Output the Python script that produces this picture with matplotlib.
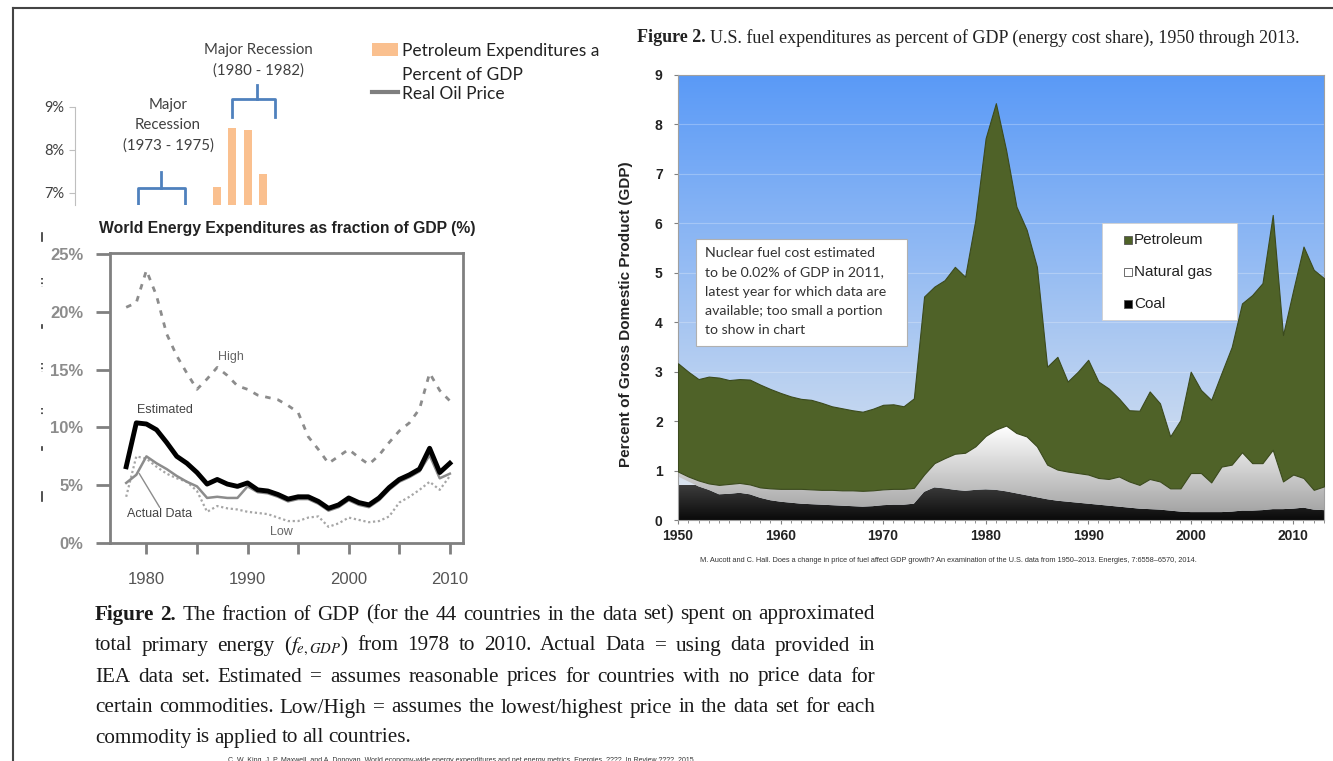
import numpy as np
import matplotlib
matplotlib.use("Agg")
import matplotlib.pyplot as plt
from matplotlib.colors import LinearSegmentedColormap
from matplotlib.patches import Rectangle, PathPatch
from matplotlib.lines import Line2D
from matplotlib.transforms import Bbox, TransformedBbox

# ---- data: partly hidden chart behind (petroleum expenditures, %) ----
petro_bar_years = [1978, 1979, 1980, 1981]
petro_bar_pct = [7.15, 8.5, 8.47, 7.45]

# ---- data: world energy expenditures as fraction of GDP (%) ----
world_years = list(range(1978, 2011))
world_high = [20.4, 20.8, 23.6, 21.4, 18.1, 16.2, 14.7, 13.3, 14.2, 15.2, 14.5,
              13.6, 13.3, 12.8, 12.6, 12.4, 11.9, 11.3, 9.2, 8.1, 6.9, 7.5,
              8.1, 7.4, 6.8, 7.6, 8.7, 9.7, 10.4, 11.6, 14.7, 13.2, 12.3]
world_estimated = [6.6, 10.4, 10.3, 9.8, 8.7, 7.5, 6.9, 6.1, 5.1, 5.5, 5.1,
                   4.9, 5.2, 4.6, 4.5, 4.2, 3.8, 4.0, 4.0, 3.6, 3.0, 3.3,
                   3.9, 3.5, 3.3, 3.9, 4.8, 5.5, 5.9, 6.4, 8.2, 6.1, 6.9]
world_actual = [5.2, 5.9, 7.5, 6.9, 6.4, 5.8, 5.3, 4.9, 3.9, 4.0, 3.9,
                3.9, 4.9, 4.4, 4.3, 4.0, 3.6, 3.8, 3.8, 3.4, 2.8, 3.1,
                3.7, 3.3, 3.1, 3.7, 4.6, 5.3, 5.7, 6.2, 7.6, 5.6, 6.0]
world_low = [4.0, 7.5, 7.3, 6.6, 6.0, 5.6, 5.3, 4.5, 2.7, 3.2, 3.0,
             2.9, 2.7, 2.6, 2.5, 2.2, 1.9, 1.9, 2.2, 2.3, 1.4, 1.7,
             2.2, 2.0, 1.8, 1.9, 2.3, 3.5, 4.0, 4.6, 5.3, 4.6, 5.8]

# ---- data: U.S. fuel expenditures, % of GDP (stacked tops) ----
us_years = list(range(1950, 2014))
coal_top = [0.88, 0.78, 0.68, 0.61, 0.52, 0.53, 0.55, 0.52, 0.45, 0.40,
            0.37, 0.35, 0.33, 0.32, 0.31, 0.30, 0.29, 0.28, 0.27, 0.28,
            0.30, 0.31, 0.31, 0.33, 0.57, 0.66, 0.64, 0.61, 0.59, 0.61,
            0.62, 0.61, 0.58, 0.54, 0.50, 0.46, 0.42, 0.39, 0.37, 0.35,
            0.33, 0.31, 0.29, 0.27, 0.25, 0.23, 0.22, 0.21, 0.19, 0.17,
            0.16, 0.16, 0.16, 0.16, 0.17, 0.19, 0.19, 0.20, 0.22, 0.22,
            0.23, 0.25, 0.21, 0.20]
gas_top = [0.98, 0.88, 0.80, 0.74, 0.71, 0.73, 0.75, 0.72, 0.66, 0.64,
           0.63, 0.63, 0.63, 0.62, 0.61, 0.61, 0.60, 0.60, 0.59, 0.60,
           0.62, 0.63, 0.63, 0.65, 0.92, 1.15, 1.25, 1.34, 1.36, 1.49,
           1.70, 1.83, 1.91, 1.76, 1.69, 1.49, 1.12, 1.02, 0.98, 0.95,
           0.92, 0.85, 0.83, 0.88, 0.78, 0.71, 0.83, 0.78, 0.64, 0.64,
           0.95, 0.95, 0.76, 1.08, 1.12, 1.37, 1.15, 1.15, 1.42, 0.78,
           0.92, 0.85, 0.61, 0.68]
petroleum_top = [3.17, 3.00, 2.85, 2.90, 2.88, 2.83, 2.85, 2.84, 2.74, 2.65,
                 2.57, 2.50, 2.45, 2.43, 2.37, 2.30, 2.26, 2.22, 2.19, 2.25,
                 2.33, 2.34, 2.30, 2.46, 4.52, 4.72, 4.85, 5.12, 4.92, 6.07,
                 7.72, 8.43, 7.48, 6.34, 5.87, 5.12, 3.10, 3.30, 2.80, 3.00,
                 3.24, 2.80, 2.66, 2.46, 2.22, 2.21, 2.60, 2.36, 1.69, 2.02,
                 3.00, 2.63, 2.43, 2.97, 3.50, 4.38, 4.55, 4.79, 6.17, 3.74,
                 4.65, 5.53, 5.06, 4.89]

caption_lines = [
    "Figure 2. The fraction of GDP (for the 44 countries in the data set) spent on approximated",
    "total primary energy ($\\mathit{f}_{e,GDP}$) from 1978 to 2010.  Actual Data = using data provided in",
    "IEA data set.  Estimated = assumes reasonable prices for countries with no price data for",
    "certain commodities.  Low/High = assumes the lowest/highest price in the data set for each",
    "commodity is applied to all countries.",
]

W, H = 1333, 761
plt.rcParams["font.family"] = ["Liberation Sans", "DejaVu Sans"]
plt.rcParams["mathtext.fontset"] = "stix"
fig = plt.figure(figsize=(W / 100, H / 100), dpi=100)
renderer = fig.canvas.get_renderer()


def box(l, t, r, b):
    return [l / W, 1 - b / H, (r - l) / W, (b - t) / H]


def fx(x):
    return x / W


def fy(y):
    return 1 - y / H


# page frame
fig.add_artist(Line2D([fx(13), fx(13)], [0, fy(8)], color="#444444", lw=1.5))
fig.add_artist(Line2D([fx(13), 1], [fy(8), fy(8)], color="#444444", lw=1.5))

# bits of the hidden chart's labels peeking out on the left
for y0, y1, ls in [(233, 241, "-"), (278, 287, ":"), (325, 328, "-"), (363, 372, ":"),
                   (408, 416, ":"), (447, 450, "-"), (492, 501, "-")]:
    fig.add_artist(Line2D([fx(42), fx(42)], [fy(y0), fy(y1)], color="#333333", lw=1.2, ls=ls))

# ---------------- partly hidden chart ----------------
ax0 = fig.add_axes(box(75, 107, 370, 205))
ax0.bar(petro_bar_years, petro_bar_pct, width=0.52, color="#fac08f")
ax0.set_xlim(1968.7, 1988.0)
ax0.set_ylim(6.72, 9.0)
for s in ["top", "right", "bottom"]:
    ax0.spines[s].set_visible(False)
ax0.spines["left"].set_color("#bfbfbf")
ax0.set_yticks([7, 8, 9])
ax0.set_yticklabels(["7%", "8%", "9%"], family="Lato", fontsize=10.5, color="#404040")
ax0.tick_params(axis="y", length=4, color="#bfbfbf", pad=4)
ax0.set_xticks([])

# recession brackets
bc = "#4f81bd"
ax0.plot([1972.8, 1972.8, 1975.9, 1975.9], [6.6, 7.12, 7.12, 6.6], color=bc, lw=2)
ax0.plot([1974.3, 1974.3], [7.12, 7.49], color=bc, lw=2)
ax0.plot([1979.0, 1979.0, 1981.8, 1981.8], [8.77, 9.19, 9.19, 8.77], color=bc, lw=2, clip_on=False)
ax0.plot([1980.6, 1980.6], [9.19, 9.51], color=bc, lw=2, clip_on=False)

fig.text(fx(258), fy(60), "Major Recession\n(1980 - 1982)", ha="center", va="center",
         family="Lato", fontsize=10.8, color="#404040", linespacing=1.55)
fig.text(fx(168), fy(125), "Major\nRecession\n(1973 - 1975)", ha="center", va="center",
         family="Lato", fontsize=10.8, color="#404040", linespacing=1.55)

fig.add_artist(Rectangle((fx(372), fy(56)), 26 / W, 13 / H, transform=fig.transFigure,
                         facecolor="#fac08f", edgecolor="none"))
fig.add_artist(Line2D([fx(372), fx(398)], [fy(92), fy(92)], color="#7f7f7f", lw=3))
clip = TransformedBbox(Bbox.from_extents(0, 0, 600 / W, 1), fig.transFigure)
t = fig.text(fx(402), fy(51), "Petroleum Expenditures as", va="center",
             family="Lato", fontsize=12.5, color="#222222")
t.set_clip_box(clip)
t.set_clip_on(True)
fig.text(fx(402), fy(75), "Percent of GDP", va="center", family="Lato", fontsize=12.5, color="#222222")
fig.text(fx(402), fy(94), "Real Oil Price", va="center", family="Lato", fontsize=12.5, color="#222222")

# ---------------- world energy expenditures ----------------
ax1 = fig.add_axes(box(110, 253, 463, 543))
ax1.plot(world_years, world_high, color="#8c8c8c", lw=2, dashes=(2, 2.5))
ax1.plot(world_years, world_low, color="#a6a6a6", lw=1.6, dashes=(1, 1.2))
ax1.plot(world_years, world_actual, color="#8c8c8c", lw=1.8)
ax1.plot(world_years, world_estimated, color="black", lw=3.5)
ax1.plot([1979.3, 1981.3], [6.0, 3.1], color="#8c8c8c", lw=1)
ax1.set_xlim(1976.4, 2011.3)
ax1.set_ylim(0, 25.1)
for s in ax1.spines.values():
    s.set_color("#808080")
    s.set_linewidth(2)
ax1.set_yticks([0, 5, 10, 15, 20, 25])
ax1.set_yticklabels(["0%", "5%", "10%", "15%", "20%", "25%"], fontweight="bold")
ax1.set_xticks([1980, 1985, 1990, 1995, 2000, 2005, 2010])
ax1.set_xticklabels(["1980", "", "1990", "", "2000", "", "2010"])
ax1.tick_params(axis="y", length=10, width=2, color="#808080", labelcolor="#8c8c8c",
                labelsize=12, pad=9)
ax1.tick_params(axis="x", length=8, width=2, color="#808080", labelcolor="#555555",
                labelsize=12, pad=13)
ax1.text(1988.4, 16.1, "High", fontsize=9, color="#666666", ha="center", va="center")
ax1.text(1981.8, 11.5, "Estimated", fontsize=9, color="#444444", ha="center", va="center")
ax1.text(1981.3, 2.5, "Actual Data", fontsize=9, color="#444444", ha="center", va="center")
ax1.text(1993.3, 0.95, "Low", fontsize=9, color="#666666", ha="center", va="center")
fig.text(fx(287), fy(228), "World Energy Expenditures as fraction of GDP (%)", ha="center",
         va="center", fontsize=11.3, weight="bold", color="#222222")

# caption, justified
cap_left, cap_right = 95, 875
cap_y = [615, 646, 677, 708, 738]
for i, line in enumerate(caption_lines):
    words = line.split()
    items = []
    for j, w in enumerate(words):
        bold = i == 0 and j < 2
        tt = fig.text(0, 0, w, family="Liberation Serif", fontsize=15.2,
                      weight="bold" if bold else "normal", color="#1a1a1a", va="center")
        items.append((tt, tt.get_window_extent(renderer).width))
    total = sum(wd for _, wd in items)
    if i < len(caption_lines) - 1:
        gap = (cap_right - cap_left - total) / (len(items) - 1)
    else:
        gap = 4.5
    xpos = cap_left
    for tt, wd in items:
        tt.set_position((fx(xpos), fy(cap_y[i])))
        xpos += wd + gap

fig.text(fx(462), fy(760), "C. W. King, J. P. Maxwell, and A. Donovan. World economy-wide energy "
         "expenditures and net energy metrics. Energies, ????, In Review ????, 2015.",
         ha="center", va="center", fontsize=5.0, color="#333333")

# ---------------- U.S. fuel expenditures ----------------
ax2 = fig.add_axes(box(678, 75, 1324, 520))
bg = LinearSegmentedColormap.from_list("bg", ["#e4e9ee", "#5a9af7"])
ax2.imshow(np.linspace(0, 1, 256).reshape(-1, 1), extent=[1950, 2013, 0, 9], origin="lower",
           cmap=bg, aspect="auto", zorder=0)
for v in range(1, 9):
    ax2.axhline(v, color="white", alpha=0.25, lw=0.8, zorder=1)

coal_cmap = LinearSegmentedColormap.from_list("coal", ["#0a0a0a", "#3c3c3c"])
gas_cmap = LinearSegmentedColormap.from_list("gas", ["#9c9c9c", "#ffffff"])
for lower, upper, cmap, ytop in [(np.zeros(len(us_years)), coal_top, coal_cmap, 0.7),
                                 (coal_top, gas_top, gas_cmap, 1.9)]:
    poly = ax2.fill_between(us_years, lower, upper, facecolor="none", edgecolor="none")
    pp = PathPatch(poly.get_paths()[0], transform=ax2.transData, facecolor="none", edgecolor="none")
    ax2.add_patch(pp)
    im = ax2.imshow(np.linspace(0, 1, 256).reshape(-1, 1), extent=[1950, 2013, 0, ytop],
                    origin="lower", cmap=cmap, aspect="auto", zorder=2)
    im.set_clip_path(pp)
ax2.fill_between(us_years, gas_top, petroleum_top, facecolor="#4f6228", edgecolor="#3b4a1d",
                 lw=0.8, zorder=3)
ax2.set_xlim(1950, 2013)
ax2.set_ylim(0, 9)
for s in ax2.spines.values():
    s.set_color("#a0a0a0")
    s.set_linewidth(0.8)
ax2.set_yticks(range(10))
ax2.set_xticks(range(1950, 2011, 10))
ax2.set_xticks(us_years, minor=True)
ax2.tick_params(axis="both", labelsize=10, length=3, color="#808080")
ax2.tick_params(axis="y", pad=8)
ax2.tick_params(axis="x", which="minor", length=2, color="#808080")
for lab in ax2.get_xticklabels() + ax2.get_yticklabels():
    lab.set_fontweight("bold")
    lab.set_color("#222222")
fig.text(fx(626), fy(314), "Percent of Gross Domestic Product (GDP)", rotation=90, ha="center",
         va="center", fontsize=11, weight="bold", color="#222222")

# note box
fig.add_artist(Rectangle((fx(696), fy(346)), 211 / W, 107 / H, transform=fig.transFigure,
                         facecolor="white", edgecolor="#b0b0b0", lw=0.8))
note = ["Nuclear fuel cost estimated", "to be 0.02% of GDP in 2011,",
        "latest year for which data are", "available; too small a portion", "to show in chart"]
for k, ln in enumerate(note):
    fig.text(fx(705), fy(253 + 19.3 * k), ln, va="center", family="Lato", fontsize=10.2,
             color="#333333")

# legend box
fig.add_artist(Rectangle((fx(1102), fy(320)), 135 / W, 97 / H, transform=fig.transFigure,
                         facecolor="white", edgecolor="#d0d0d0", lw=0.6))
for k, (name, col) in enumerate([("Petroleum", "#4f6228"), ("Natural gas", "white"),
                                 ("Coal", "black")]):
    yy = 240 + 32 * k
    fig.add_artist(Rectangle((fx(1124), fy(yy + 4)), 8 / W, 8 / H, transform=fig.transFigure,
                             facecolor=col, edgecolor="#555555", lw=0.6))
    fig.text(fx(1134), fy(yy), name, va="center", fontsize=11, color="#222222")

# title and citation
t1 = fig.text(fx(637), fy(38), "Figure 2.", family="Liberation Serif", fontsize=13.0,
              weight="bold", va="center", color="#222222")
w1 = t1.get_window_extent(renderer).width
fig.text(fx(637 + w1 + 4), fy(38),
         "U.S. fuel expenditures as percent of GDP (energy cost share), 1950 through 2013.",
         family="Liberation Serif", fontsize=13.0, va="center", color="#222222")
fig.text(fx(948), fy(560), "M. Aucott and C. Hall. Does a change in price of fuel affect GDP growth? "
         "An examination of the U.S. data from 1950\u20132013. Energies, 7:6558\u20136570, 2014.",
         ha="center", va="center", fontsize=5.3, color="#333333")

fig.savefig("out.png", dpi=100)
